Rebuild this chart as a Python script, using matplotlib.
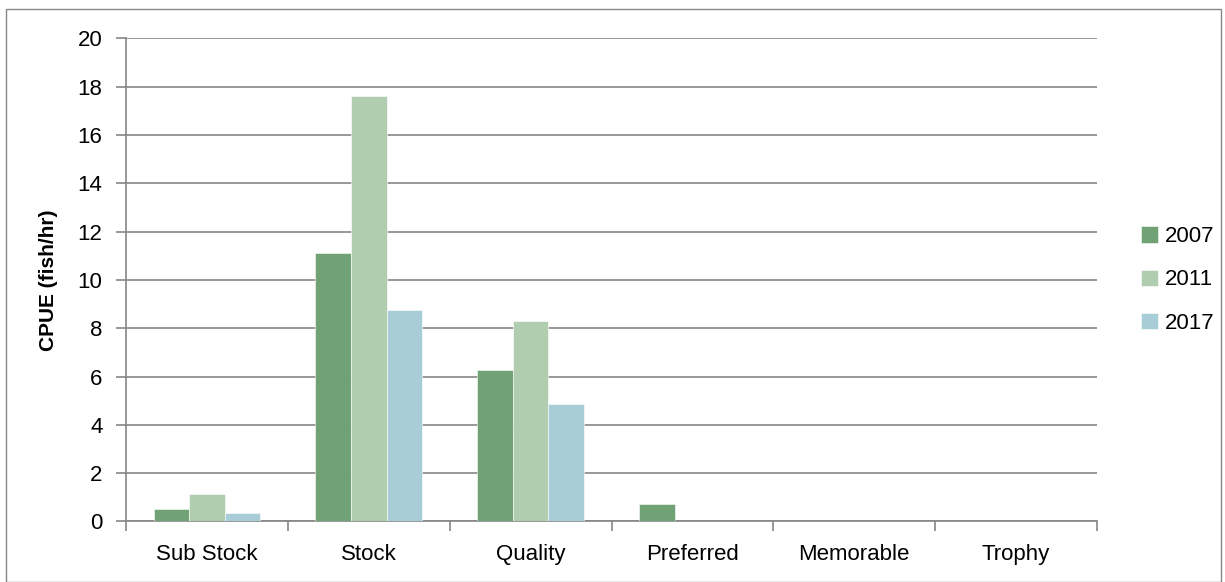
"""CPUE by size category - 2007, 2011, 2017."""
import matplotlib
matplotlib.use("Agg")
import matplotlib.pyplot as plt
import numpy as np
from matplotlib.patches import Rectangle

categories = ["Sub Stock", "Stock", "Quality", "Preferred", "Memorable", "Trophy"]
years = ["2007", "2011", "2017"]
cpue_2007 = [0.50, 11.10, 6.27, 0.72, 0.0, 0.0]
cpue_2011 = [1.12, 17.60, 8.30, 0.0, 0.0, 0.0]
cpue_2017 = [0.34, 8.75, 4.88, 0.0, 0.0, 0.0]
colors = ["#70A275", "#B0CDB0", "#A9CDD6"]

plt.rcParams["font.family"] = ["Liberation Sans", "DejaVu Sans"]

fig = plt.figure(figsize=(12.25, 5.82), dpi=100)
ax = fig.add_axes([0.1029, 0.1041, 0.7926, 0.8299])

x = np.arange(len(categories))
w = 0.22
for i, (vals, lab) in enumerate(zip([cpue_2007, cpue_2011, cpue_2017], years)):
    ax.bar(x + (i - 1) * w, vals, w, color=colors[i], label=lab,
           edgecolor="white", linewidth=0.4, zorder=3)

ax.set_xlim(-0.5, len(categories) - 0.5)
ax.set_ylim(0, 20)
ax.set_yticks(range(0, 21, 2))
ax.yaxis.grid(True, color="#868686", linewidth=1.2, zorder=0)
ax.set_axisbelow(True)

ax.set_xticks(x)
ax.set_xticklabels(categories, fontsize=16)
ax.tick_params(axis="x", which="major", length=0, pad=16)
ax.set_xticks(np.arange(-0.5, len(categories), 1.0), minor=True)
ax.tick_params(axis="x", which="minor", length=7, width=1.2, color="#868686")
ax.tick_params(axis="y", length=7, width=1.2, color="#868686", labelsize=16, pad=10)

for s in ["top", "right"]:
    ax.spines[s].set_visible(False)
for s in ["left", "bottom"]:
    ax.spines[s].set_color("#868686")
    ax.spines[s].set_linewidth(1.2)

ax.set_ylabel("CPUE (fish/hr)", fontsize=15, fontweight="bold", labelpad=14)

ax.legend(loc="center left", bbox_to_anchor=(1.025, 0.5), frameon=False, fontsize=16,
          handlelength=0.75, handleheight=0.75, handletextpad=0.3, labelspacing=1.0)

fig.patches.append(Rectangle((0.005, 0.0), 0.992, 0.985, transform=fig.transFigure,
                             fill=False, edgecolor="#868686", linewidth=1.0))

plt.savefig("out.png", dpi=100)
plt.close()
